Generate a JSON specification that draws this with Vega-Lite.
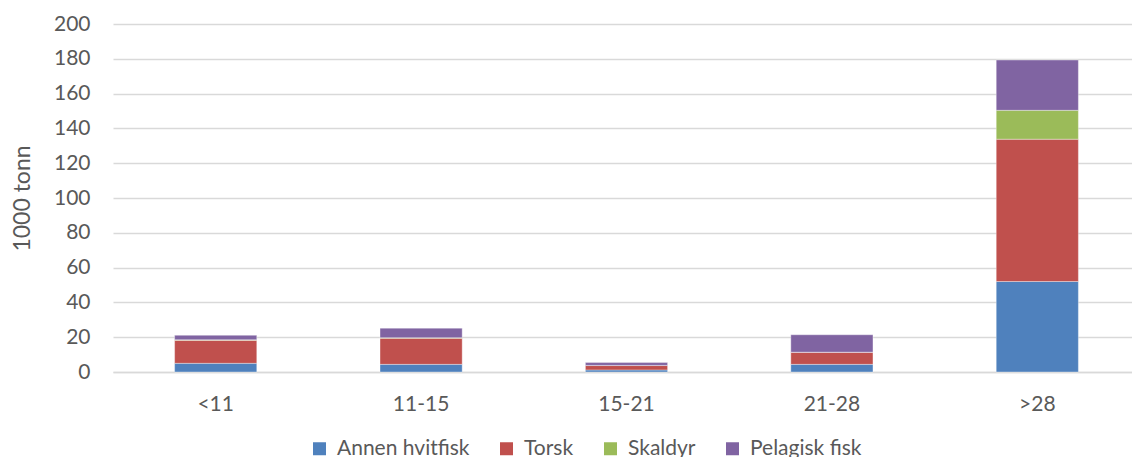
{
  "$schema": "https://vega.github.io/schema/vega-lite/v6.json",
  "width": 1027,
  "height": 348,
  "autosize": {"type": "none"},
  "padding": {"left": 113, "top": 24, "right": 0, "bottom": 85},
  "config": {
    "font": "Lato",
    "view": {"stroke": null},
    "axis": {"labelColor": "#595959", "titleColor": "#595959", "labelFontSize": 21, "titleFontSize": 23, "titleFontWeight": "normal", "ticks": false}
  },
  "data": {
    "values": [
      {"lengde": "<11", "art": "Annen hvitfisk", "tonn": 5.0},
      {"lengde": "<11", "art": "Torsk", "tonn": 13.2},
      {"lengde": "<11", "art": "Skaldyr", "tonn": 0.3},
      {"lengde": "<11", "art": "Pelagisk fisk", "tonn": 2.6},
      {"lengde": "11-15", "art": "Annen hvitfisk", "tonn": 4.4},
      {"lengde": "11-15", "art": "Torsk", "tonn": 15.0},
      {"lengde": "11-15", "art": "Skaldyr", "tonn": 0.3},
      {"lengde": "11-15", "art": "Pelagisk fisk", "tonn": 5.5},
      {"lengde": "15-21", "art": "Annen hvitfisk", "tonn": 1.2},
      {"lengde": "15-21", "art": "Torsk", "tonn": 2.5},
      {"lengde": "15-21", "art": "Skaldyr", "tonn": 0.1},
      {"lengde": "15-21", "art": "Pelagisk fisk", "tonn": 1.6},
      {"lengde": "21-28", "art": "Annen hvitfisk", "tonn": 4.4},
      {"lengde": "21-28", "art": "Torsk", "tonn": 6.9},
      {"lengde": "21-28", "art": "Skaldyr", "tonn": 0.1},
      {"lengde": "21-28", "art": "Pelagisk fisk", "tonn": 10.0},
      {"lengde": ">28", "art": "Annen hvitfisk", "tonn": 52.0},
      {"lengde": ">28", "art": "Torsk", "tonn": 81.8},
      {"lengde": ">28", "art": "Skaldyr", "tonn": 16.6},
      {"lengde": ">28", "art": "Pelagisk fisk", "tonn": 28.9}
    ]
  },
  "transform": [
    {"calculate": "indexof(['Annen hvitfisk','Torsk','Skaldyr','Pelagisk fisk'], datum.art)", "as": "rekkefolge"}
  ],
  "mark": {"type": "bar", "stroke": "#ffffff", "strokeWidth": 0.6, "strokeOpacity": 0.6},
  "encoding": {
    "x": {
      "field": "lengde", "type": "nominal",
      "sort": ["<11", "11-15", "15-21", "21-28", ">28"],
      "scale": {"paddingInner": 0.6, "paddingOuter": 0.3},
      "axis": {"title": null, "labelAngle": 0, "labelPadding": 21, "domainColor": "#D9D9D9", "domainWidth": 1.5, "grid": false}
    },
    "y": {
      "field": "tonn", "type": "quantitative", "stack": "zero",
      "scale": {"domain": [0, 200]},
      "axis": {"title": "1000 tonn", "values": [0,20,40,60,80,100,120,140,160,180,200], "labelPadding": 23, "titlePadding": 19, "domain": false, "gridColor": "#D9D9D9", "gridWidth": 1.5}
    },
    "order": {"field": "rekkefolge", "type": "quantitative", "sort": "ascending"},
    "color": {
      "field": "art", "type": "nominal",
      "scale": {"domain": ["Annen hvitfisk", "Torsk", "Skaldyr", "Pelagisk fisk"], "range": ["#4F81BD", "#C0504D", "#9BBB59", "#8064A2"]},
      "legend": {
        "title": null, "orient": "none", "direction": "horizontal", "legendX": 196, "legendY": 414,
        "symbolType": "square", "symbolSize": 169, "symbolStrokeWidth": 0, "symbolOpacity": 1,
        "labelFontSize": 21, "labelColor": "#595959", "labelOffset": 7, "columnPadding": 26
      }
    }
  }
}
